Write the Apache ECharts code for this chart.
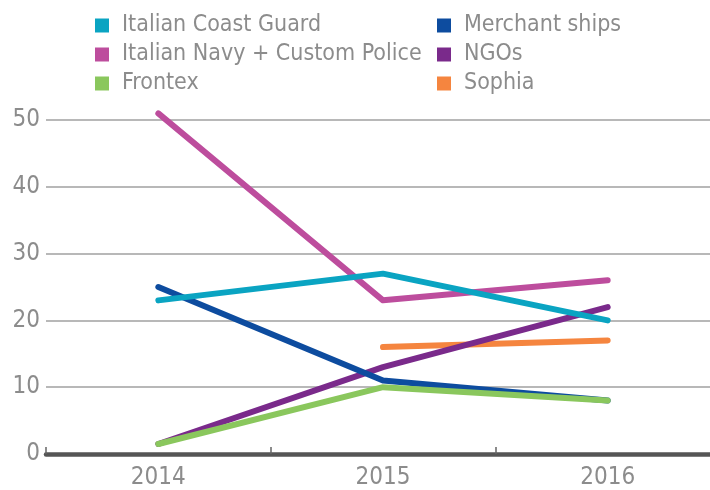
<!DOCTYPE html>
<html>
<head>
<meta charset="utf-8">
<style>
  html, body { margin: 0; padding: 0; background: #fff; }
  #wrap { width: 710px; height: 490px; overflow: hidden; position: relative; }
  #main { width: 720px; height: 490px; position: absolute; left: 0; top: 0; }
</style>
<script src="https://cdn.jsdelivr.net/npm/echarts@6/dist/echarts.min.js"></script>
</head>
<body>
<div id="wrap"><div id="main"></div></div>
<script>
var years = ['2014', '2015', '2016'];
var yTicks = [0, 10, 20, 30, 40, 50];

var coastGuard = [23, 27, 20];
var merchant = [25, 11, 8];
var navyPolice = [51, 23, 26];
var ngos = [1.5, 13, 22];
var frontex = [1.5, 10, 8];
var sophia = [null, 16, 17];

var font = "'Liberation Sans Narrow', 'DejaVu Sans Condensed', sans-serif";
var grey = '#8c8c8c';

function line(name, data, color) {
    return {
        name: name,
        type: 'line',
        data: data,
        symbol: 'none',
        clip: false,
        color: color,
        lineStyle: { width: 6, color: color, cap: 'round', join: 'round' }
    };
}

var legendText = { fontSize: 23, color: grey, fontFamily: font, padding: [0, 0, 0, 8] };

var chart = echarts.init(document.getElementById('main'));
chart.setOption({
    animation: false,
    textStyle: { fontFamily: font },
    legend: [{
        orient: 'vertical',
        left: 90, top: 9,
        icon: 'rect',
        itemWidth: 14, itemHeight: 14, itemGap: 6,
        textStyle: legendText,
        data: ['Italian Coast Guard', 'Italian Navy + Custom Police', 'Frontex']
    }, {
        orient: 'vertical',
        left: 432, top: 9,
        icon: 'rect',
        itemWidth: 14, itemHeight: 14, itemGap: 6,
        textStyle: legendText,
        data: ['Merchant ships', 'NGOs', 'Sophia']
    }],
    grid: { left: 46, top: 120, width: 674, height: 339 },
    xAxis: {
        type: 'category',
        data: years,
        boundaryGap: true,
        axisLine: { lineStyle: { color: '#555', width: 4.5 } },
        axisTick: { show: true, inside: true, length: 7, lineStyle: { color: '#666', width: 1.5 } },
        axisLabel: { fontSize: 24, color: grey, margin: 12, fontFamily: font }
    },
    yAxis: {
        type: 'value',
        min: yTicks[0], max: yTicks[yTicks.length - 1], interval: 10,
        axisLine: { show: false },
        axisTick: { show: false },
        axisLabel: { fontSize: 24, color: grey, margin: 6, fontFamily: font },
        splitLine: { lineStyle: { color: '#a0a0a0', width: 1.5 } }
    },
    series: [
        line('Sophia', sophia, '#f5853f'),
        line('NGOs', ngos, '#7a2a8b'),
        line('Italian Navy + Custom Police', navyPolice, '#bd4d9d'),
        line('Merchant ships', merchant, '#0d4c9f'),
        line('Frontex', frontex, '#8ac75d'),
        line('Italian Coast Guard', coastGuard, '#0aa4c2')
    ]
});
</script>
</body>
</html>
